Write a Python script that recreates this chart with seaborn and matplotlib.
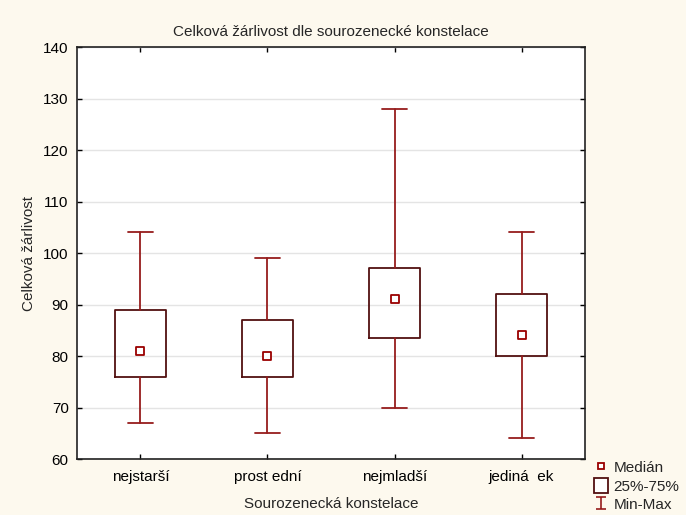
import pandas as pd
import seaborn as sns
import matplotlib.pyplot as plt
from matplotlib.path import Path
from matplotlib.lines import Line2D
from matplotlib.patches import Rectangle

# Summary statistics
categories = ['nejstarší', 'prost ední', 'nejmladší', 'jediná  ek']
minimum = [67, 65, 70, 64]
q1 = [76, 76, 83.5, 80]
median = [81, 80, 91, 84]
q3 = [89, 87, 97, 92]
maximum = [104, 99, 128, 104]

stats = pd.DataFrame({'kategorie': categories, 'min': minimum, 'q1': q1,
                      'med': median, 'q3': q3, 'max': maximum})

whisker_col = '#961c1c'
box_col = '#521010'
med_col = '#9a0000'
bg_col = '#fdf9ee'

sns.set_theme(style='white')
plt.rcParams['font.family'] = ['Liberation Sans', 'DejaVu Sans']

fig = plt.figure(figsize=(6.86, 5.15), dpi=100, facecolor=bg_col)
ax = fig.add_axes([0.1122, 0.1087, 0.7406, 0.8])
ax.set_facecolor('white')

bxp_stats = [{'label': r.kategorie, 'whislo': r['min'], 'q1': r.q1, 'med': r.med,
              'q3': r.q3, 'whishi': r['max'], 'fliers': []}
             for _, r in stats.iterrows()]
ax.bxp(bxp_stats, positions=range(len(categories)), widths=0.4, showfliers=False,
       boxprops=dict(color=box_col, linewidth=1.3),
       whiskerprops=dict(color=whisker_col, linewidth=1.3),
       capprops=dict(color=whisker_col, linewidth=1.3),
       medianprops=dict(linewidth=0), capwidths=0.2, zorder=3)

sns.scatterplot(data=stats, x=range(len(categories)), y='med', ax=ax, marker='s',
                s=26, facecolor='white', edgecolor=med_col, linewidth=1.3,
                zorder=4, legend=False)

ax.set_xlim(-0.5, 3.5)
ax.set_ylim(60, 140)
ax.set_yticks(range(60, 141, 10))
ax.set_xticks(range(len(categories)))
ax.set_xticklabels(categories)
ax.yaxis.grid(True, color='#e4e4e4', linewidth=1, linestyle='-')
ax.set_axisbelow(True)
ax.tick_params(direction='in', length=3.5, width=1, colors='black', labelsize=11,
               top=True, right=True, bottom=True, left=True)
ax.tick_params(axis='x', pad=8)
ax.tick_params(axis='y', pad=6)
for sp in ax.spines.values():
    sp.set_color('#222222')
    sp.set_linewidth(1.2)

ax.set_title('Celková žárlivost dle sourozenecké konstelace', fontsize=11, pad=8)
ax.set_xlabel('Sourozenecká konstelace', fontsize=11, labelpad=9)
ax.set_ylabel('Celková žárlivost', fontsize=11, labelpad=5)

# legend symbols
minmax_path = Path([(-0.4, 0.5), (0.4, 0.5), (0, 0.5), (0, -0.5), (-0.4, -0.5), (0.4, -0.5)],
                   [Path.MOVETO, Path.LINETO, Path.MOVETO, Path.LINETO,
                    Path.MOVETO, Path.LINETO])
handles = [
    Line2D([], [], linestyle='none', marker='s', markersize=5,
           markerfacecolor='white', markeredgecolor=med_col, markeredgewidth=1.3),
    Rectangle((0, 0), 1, 1, facecolor='white', edgecolor=box_col, linewidth=1.3),
    Line2D([], [], linestyle='none', marker=minmax_path, markersize=9,
           markerfacecolor='none', markeredgecolor=whisker_col, markeredgewidth=1.2),
]
fig.legend(handles, ['Medián', '25%-75%', 'Min-Max'], loc='lower left',
           bbox_to_anchor=(0.853, -0.012), frameon=False, fontsize=11,
           handlelength=0.9, handletextpad=0.35, labelspacing=0.2,
           borderaxespad=0.2, handleheight=1.05)

fig.savefig('out.png', dpi=100, facecolor=bg_col)
